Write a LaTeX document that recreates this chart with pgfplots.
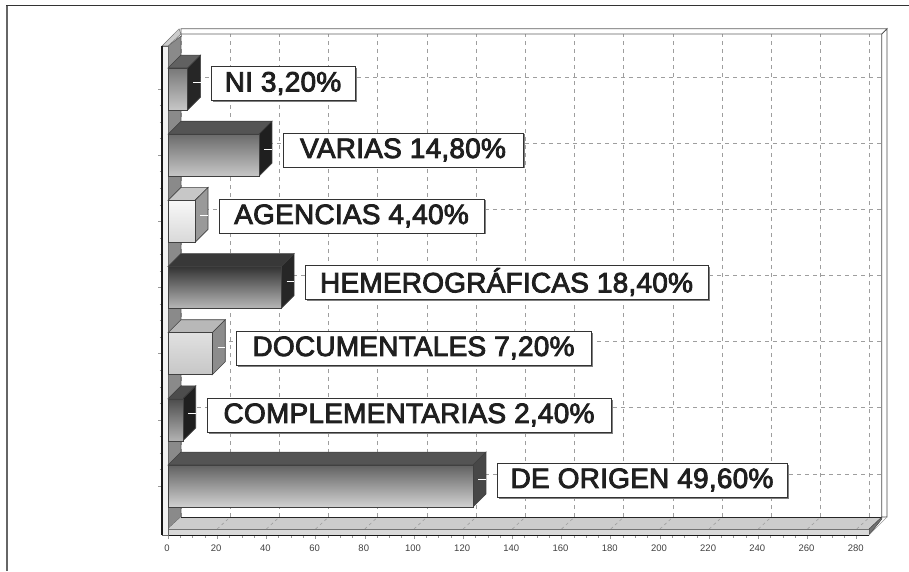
\documentclass[border=0pt]{standalone}
\usepackage{fontspec}
\setmainfont{Liberation Sans}
\newfontfamily\labfont[FakeBold=3,LetterSpace=0.8]{Liberation Sans}
\usepackage{pgfplots}
\pgfplotsset{compat=1.18}
\usetikzlibrary{shadows}
% image px (X,Y) -> tikz ((X-168)pt,(535-Y)pt)
\newcommand\barfaces[8]{%
 \addplot[fill=#7,draw=black!75,line width=.6pt] coordinates {(0,#3) (#1,#3) (#2,#4) (5.28,#4)} --cycle;
 \addplot[fill=#8,draw=black!75,line width=.6pt] coordinates {(#1,#3) (#2,#4) (#2,#6) (#1,#5)} --cycle;
}
\tikzset{lab/.style={draw=black!80,line width=.7pt,fill=white,inner sep=0pt,
  drop shadow={shadow xshift=1.5pt,shadow yshift=-1.5pt,fill=black!50,opacity=1},
  text=black!88,font=\labfont\fontsize{28}{30}\selectfont}}
\begin{document}
\begin{tikzpicture}
\path[use as bounding box] (-168pt,-36pt) rectangle (741pt,535pt);
% outer frame
\draw[black!60,line width=1.1pt] (-161pt,-36pt) -- (-161pt,530pt);
\draw[black!80,line width=.9pt] (-161.5pt,530pt) -- (741pt,530pt);
% back plane with grid
\begin{axis}[at={(13pt,18pt)},anchor=south west,scale only axis,width=701pt,height=483pt,
  xmin=0,xmax=285,ymin=-0.65,ymax=6.65,
  axis line style={draw=none},tick style={draw=none},
  xtick={0,20,...,280},ytick={0,1,2,3,4,5,6},
  xticklabels={},yticklabels={},
  grid=major,major grid style={black!38,dash pattern=on 4pt off 4pt,line width=.8pt}]
\end{axis}
\begin{axis}[at={(0pt,0pt)},anchor=south west,scale only axis,width=701pt,height=489pt,
  xmin=0,xmax=285,ymin=-0.7405,ymax=6.65,clip=false,
  axis x line=bottom,axis y line=left,
  x axis line style={-,draw=black!90,line width=1.3pt,shorten <=-6pt},
  y axis line style={-,draw=none},
  xtick={0,20,...,280},ytick={0,1,2,3,4,5,6},yticklabels={},
  minor x tick num=3,minor y tick num=3,
  tick align=outside,
  major tick length=4pt,minor tick length=2.5pt,
  tick style={black!40,line width=.5pt},
  y tick style={xshift=-6pt},
  xticklabel style={font=\fontsize{9.5}{10}\selectfont,text=black!75,xshift=-1pt,yshift=-2pt},
  /pgf/number format/assume math mode=true,
  bar shift=0pt]
% left wall, floor, top and right frame
\addplot[fill=black!46,draw=black!65,line width=.6pt] coordinates {(0,6.65) (5.28,6.8) (5.28,-0.4685) (0,-0.65)} --cycle;
\addplot[fill=black!20,draw=black!55,line width=.5pt] coordinates {(-2.44,6.65) (0,6.65) (5.28,6.83) (4.5,6.91)} --cycle;
\addplot[fill=black!20,draw=none] coordinates {(0,-0.65) (5.28,-0.4685) (290.2,-0.4685) (285,-0.65)} --cycle;
\addplot[draw=black!85,line width=.8pt] coordinates {(5.28,-0.4685) (290.2,-0.4685)};
\addplot[fill=black!55,draw=black!75,line width=.5pt] coordinates {(285,-0.65) (290.2,-0.4685) (290.2,-0.5) (285,-0.7405)} --cycle;
\addplot[fill=black!15,draw=none] coordinates {(0,-0.65) (285,-0.65) (285,-0.7405) (0,-0.7405)} --cycle;
\addplot[draw=black!55,line width=.8pt] coordinates {(0,-0.65) (285,-0.65)};
\addplot[fill=white,draw=black!62,line width=.7pt] coordinates {(5.28,6.83) (290.2,6.83) (292.3,6.91) (5.28,6.91)} --cycle;
\addplot[fill=white,draw=black!70,line width=.7pt] coordinates {(290.2,6.83) (292.3,6.91) (292.3,-0.4685) (290.2,-0.4685)} --cycle;
\addplot[draw=black!40,line width=.4pt] coordinates {(292.3,-0.4685) (285,-0.7405)};
% left band
\addplot[fill=black!5,draw=black!60,line width=.5pt] coordinates {(-2.44,6.65) (0,6.65) (0,-0.7405) (-2.44,-0.7405)} --cycle;
\addplot[draw=black!90,line width=1.1pt] coordinates {(-2.44,6.65) (-2.44,-0.7405)};
% dashes on the floor
\addplot[black!38,line width=.6pt,dash pattern=on 3pt off 3pt,unbounded coords=jump] coordinates {
 (20,-0.65) (25.28,-0.4685) (20,nan) (40,-0.65) (45.28,-0.4685) (40,nan)
 (60,-0.65) (65.28,-0.4685) (60,nan) (80,-0.65) (85.28,-0.4685) (80,nan)
 (100,-0.65) (105.28,-0.4685) (100,nan) (120,-0.65) (125.28,-0.4685) (120,nan)
 (140,-0.65) (145.28,-0.4685) (140,nan) (160,-0.65) (165.28,-0.4685) (160,nan)
 (180,-0.65) (185.28,-0.4685) (180,nan) (200,-0.65) (205.28,-0.4685) (200,nan)
 (220,-0.65) (225.28,-0.4685) (220,nan) (240,-0.65) (245.28,-0.4685) (240,nan)
 (260,-0.65) (265.28,-0.4685) (260,nan) (280,-0.65) (285.28,-0.4685)};
% bars
\barfaces{8}{13.28}{6.317}{6.513}{5.683}{5.879}{black!62}{black!85}
\addplot[xbar,bar width=42pt,draw=black!75,top color=black!53,bottom color=black!22] coordinates {(8,6)};
\barfaces{37}{42.28}{5.317}{5.513}{4.683}{4.879}{black!67}{black!88}
\addplot[xbar,bar width=42pt,draw=black!75,top color=black!58,bottom color=black!22] coordinates {(37,5)};
\barfaces{11}{16.28}{4.317}{4.513}{3.683}{3.879}{black!22}{black!40}
\addplot[xbar,bar width=42pt,draw=black!75,top color=black!3,bottom color=black!15] coordinates {(11,4)};
\barfaces{46}{51.28}{3.317}{3.513}{2.683}{2.879}{black!78}{black!85}
\addplot[xbar,bar width=42pt,draw=black!75,top color=black!80,bottom color=black!28] coordinates {(46,3)};
\barfaces{18}{23.28}{2.317}{2.513}{1.683}{1.879}{black!28}{black!45}
\addplot[xbar,bar width=42pt,draw=black!75,top color=black!12,bottom color=black!22] coordinates {(18,2)};
\barfaces{6}{11.28}{1.317}{1.513}{0.683}{0.879}{black!70}{black!88}
\addplot[xbar,bar width=42pt,draw=black!75,top color=black!70,bottom color=black!30] coordinates {(6,1)};
\barfaces{124}{129.28}{0.317}{0.513}{-0.317}{-0.121}{black!67}{black!72}
\addplot[xbar,bar width=42pt,draw=black!75,top color=black!62,bottom color=black!18] coordinates {(124,0)};
% leader lines
\addplot[white,line width=.7pt,unbounded coords=jump] coordinates {
 (10.2,6.095) (13.28,6.095) (10.2,nan) (39.2,5.095) (42.28,5.095) (39.2,nan)
 (13.2,4.095) (16.28,4.095) (13.2,nan) (48.2,3.095) (51.28,3.095) (48.2,nan)
 (20.2,2.095) (23.28,2.095) (20.2,nan) (8.2,1.095) (11.28,1.095) (8.2,nan)
 (126.2,0.095) (129.28,0.095)};
\end{axis}
% data labels
\node[lab,minimum width=144pt,minimum height=33.5pt] at (115pt,451.5pt) {NI 3,20\%};
\node[lab,minimum width=240pt,minimum height=34pt] at (235pt,385pt) {VARIAS 14,80\%};
\node[lab,minimum width=265pt,minimum height=34pt] at (183.5pt,319pt) {AGENCIAS 4,40\%};
\node[lab,minimum width=403pt,minimum height=34pt] at (338.5pt,253pt) {HEMEROGRÁFICAS 18,40\%};
\node[lab,minimum width=355pt,minimum height=34pt] at (245.5pt,187pt) {DOCUMENTALES 7,20\%};
\node[lab,minimum width=404pt,minimum height=34pt] at (241pt,120pt) {COMPLEMENTARIAS 2,40\%};
\node[lab,minimum width=290pt,minimum height=34pt] at (474pt,55pt) {DE ORIGEN 49,60\%};
\end{tikzpicture}
\end{document}
